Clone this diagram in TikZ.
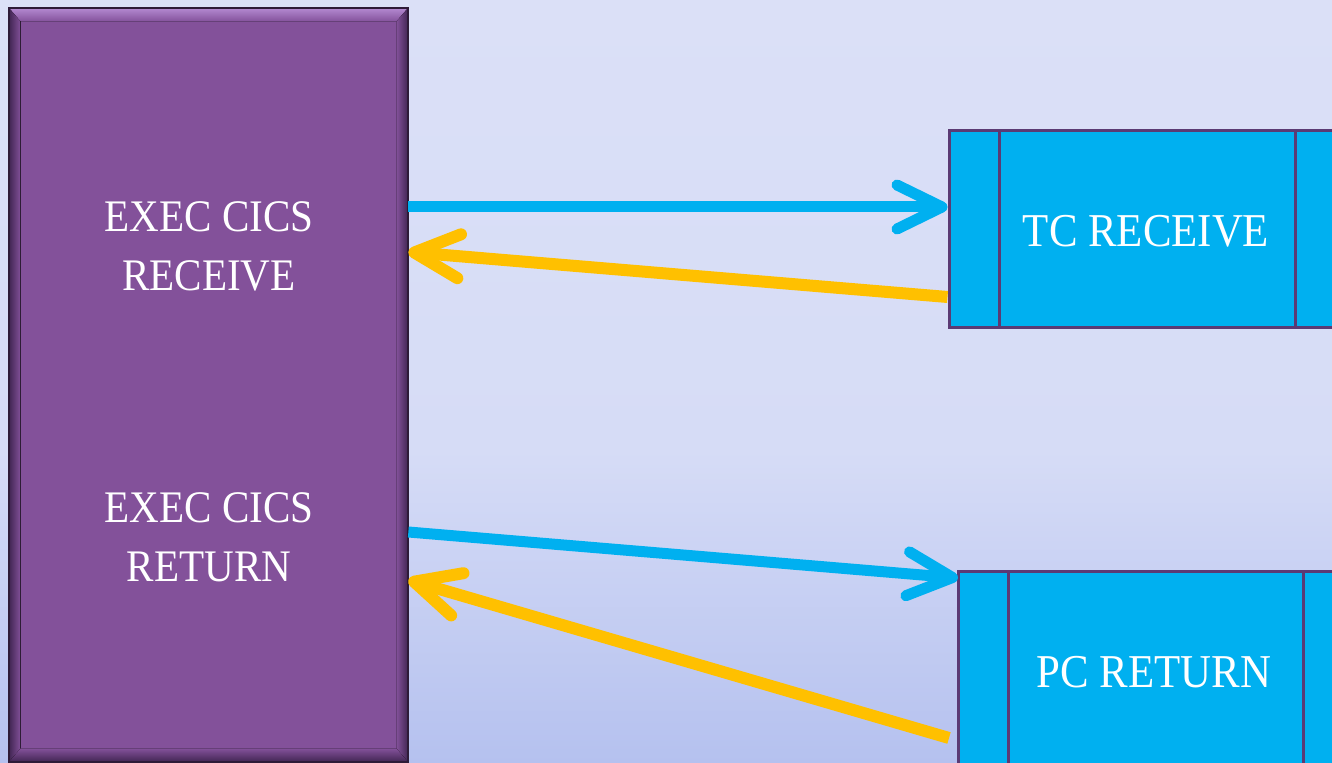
\documentclass[tikz,border=0pt]{standalone}
\usepackage{fontspec}
\setmainfont{Liberation Serif}[FakeStretch=0.91]
\usetikzlibrary{arrows.meta,fit,calc}

\definecolor{bgtop}{HTML}{DBE0F7}
\definecolor{bgmid}{HTML}{D6DCF6}
\definecolor{bgbot}{HTML}{B5C1EF}
\definecolor{cicspurple}{HTML}{83519A}
\definecolor{bevellight}{HTML}{B58BD2}
\definecolor{beveldark}{HTML}{3F2450}
\definecolor{bevelline}{HTML}{2E1B38}
\definecolor{procblue}{HTML}{00B0F0}
\definecolor{procedge}{HTML}{5B3A74}
\definecolor{retgold}{HTML}{FFC000}

\tikzset{
  progbox/.style={inner sep=0pt, fill=cicspurple},
  procbox/.style={inner sep=0pt, fill=procblue, draw=procedge, line width=0.06cm},
  divider/.style={draw=procedge, line width=0.06cm},
  cmdtext/.style={text=white, font=\fontsize{25.7pt}{30pt}\selectfont, anchor=base, inner sep=0pt},
  proctext/.style={text=white, font=\fontsize{26.8pt}{31pt}\selectfont, anchor=base, inner sep=0pt},
  callarrow/.style={draw=procblue, line width=0.22cm,
    -{Straight Barb[length=0.9cm, width=0.88cm, round]}},
  retarrow/.style={draw=retgold, line width=0.24cm,
    -{Straight Barb[length=0.9cm, width=0.88cm, round]}},
}

\begin{document}
\begin{tikzpicture}[x=0.02cm, y=-0.02cm]
  % page area and backdrop: light at the top, deepening towards the foot
  \useasboundingbox (0,0) rectangle (1332,763);
  \fill[top color=bgtop, bottom color=bgmid] (0,0) rectangle (1332,451);
  \fill[top color=bgmid, bottom color=bgbot] (0,450) rectangle (1332,763);

  % application program: bevelled purple panel
  \node[progbox, fit={(9,8) (408,762)}] (prog) {};
  \fill[top color=bevellight, bottom color=cicspurple]
    (prog.north west) -- (prog.north east) -- ++(-12,14) -- ($(prog.north west)+(12,14)$) -- cycle;
  \fill[left color=beveldark, right color=cicspurple]
    (prog.north west) -- ++(12,14) -- ($(prog.south west)+(12,-14)$) -- (prog.south west) -- cycle;
  \fill[right color=beveldark, left color=cicspurple]
    (prog.north east) -- ++(-12,14) -- ($(prog.south east)+(-12,-14)$) -- (prog.south east) -- cycle;
  \fill[bottom color=beveldark, top color=cicspurple]
    (prog.south west) -- ++(12,-14) -- ($(prog.south east)+(-12,-14)$) -- (prog.south east) -- cycle;
  \draw[bevelline, line width=0.04cm] (prog.north west) rectangle (prog.south east);

  \node[cmdtext] (recv1) at (209,232) {EXEC CICS};
  \node[cmdtext] (recv2) at (209,291) {RECEIVE};
  \node[cmdtext] (ret1) at (209,522) {EXEC CICS};
  \node[cmdtext] (ret2) at (209,581) {RETURN};

  % CICS service modules
  \node[procbox, fit={(949,131) (1350,328)}] (tc) {};
  \draw[divider] (999,131) -- (999,328);
  \draw[divider] (1295,131) -- (1295,328);
  \node[proctext] (tclabel) at (1146,247) {TC RECEIVE};

  \node[procbox, fit={(958,571) (1350,790)}] (pc) {};
  \draw[divider] (1008,571) -- (1008,790);
  \draw[divider] (1303,571) -- (1303,790);
  \node[proctext] (pclabel) at (1154,687) {PC RETURN};

  % attachment points on the panel and module edges
  \coordinate (recvOut) at (prog.east |- 0,207);
  \coordinate (recvIn)  at (prog.east |- 0,252);
  \coordinate (retOut)  at (prog.east |- 0,532);
  \coordinate (retIn)   at (prog.east |- 0,580);
  \coordinate (tcIn)    at (tc.west |- 0,207);
  \coordinate (tcOut)   at (tc.west |- 0,297);
  \coordinate (pcIn)    at (958,578);
  \coordinate (pcOut)   at (949,738);

  % calls and returns
  \draw[callarrow] (recvOut) -- (tcIn);
  \draw[retarrow]  (tcOut) -- (recvIn);
  \draw[callarrow] (retOut) -- (pcIn);
  \draw[retarrow]  (pcOut) -- (retIn);
\end{tikzpicture}
\end{document}
